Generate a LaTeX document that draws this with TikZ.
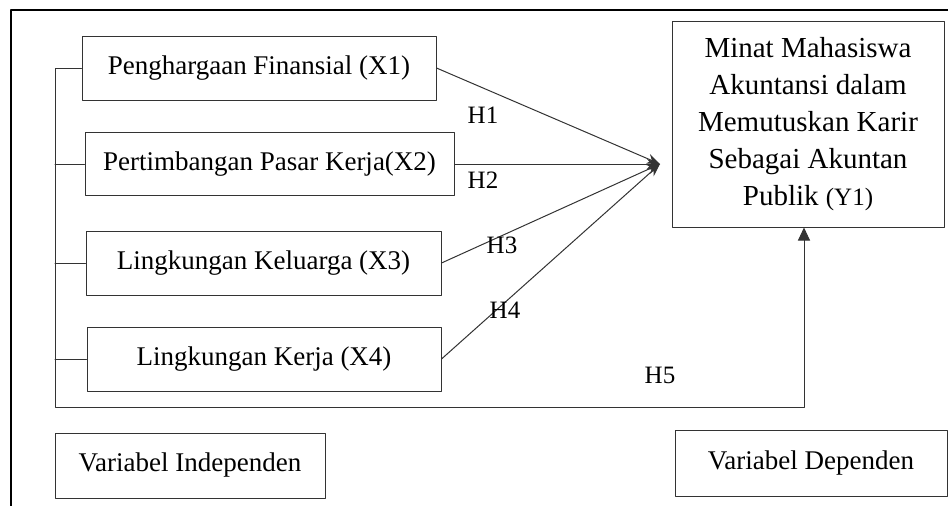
\documentclass[tikz,border=0pt]{standalone}
\usepackage{fontspec}
\setmainfont{Liberation Serif}
\usetikzlibrary{arrows.meta}

\begin{document}
\begin{tikzpicture}[x=1pt,y=-1pt,line cap=round,line join=round,
  box/.style={draw=black!80,line width=1pt,inner sep=0pt,font=\fontsize{27}{32}\selectfont},
  link/.style={draw=black!80,line width=1pt},
  hyp/.style={inner sep=0pt,font=\fontsize{25}{28}\selectfont}]
\path[use as bounding box] (0,0) rectangle (948,506);
\draw[line width=2pt] (11,506) -- (11,10) -- (948,10);
% independent variables
\node[box,minimum width=354pt,minimum height=64pt] (x1) at (259,68) {Penghargaan Finansial (X1)};
\node[box,minimum width=369pt,minimum height=63pt] (x2) at (269.5,164) {Pertimbangan Pasar Kerja(X2)};
\node[box,minimum width=355pt,minimum height=64pt] (x3) at (263.5,263) {Lingkungan Keluarga (X3)};
\node[box,minimum width=354pt,minimum height=64pt] (x4) at (264,359) {Lingkungan Kerja (X4)};
% dependent variable
\node[box,minimum width=272pt,minimum height=206pt,align=center,font=\fontsize{29}{37}\selectfont] (y1) at (808,124)
  {Minat Mahasiswa\\Akuntansi dalam\\Memutuskan Karir\\Sebagai Akuntan\\Publik {\fontsize{25}{37}\selectfont(Y1)}};
% legend boxes
\node[box,minimum width=270pt,minimum height=65pt] (vind) at (190,465.5) {\raisebox{5pt}{Variabel Independen}};
\node[box,minimum width=272pt,minimum height=66pt] (vdep) at (811,463) {\raisebox{5pt}{Variabel Dependen}};
% arrows
\coordinate (hub) at (660,164);
\coordinate (bend) at (55,407);
\draw[link,-{Stealth[length=13pt,width=10pt]}] (x1.east) -- (hub);
\draw[link,-{Stealth[length=13pt,width=10pt]}] (x2.east) -- (hub);
\draw[link,-{Stealth[length=13pt,width=10pt]}] (x3.east) -- (hub);
\draw[link,-{Stealth[length=13pt,width=10pt]}] (x4.east) -- (hub);
\draw[link,-{Triangle[length=13pt,width=12pt]}] (x1.west) -| (bend) -| ([xshift=-4pt]y1.south);
\draw[link] (x2.west) -- (x2.west -| bend);
\draw[link] (x3.west) -- (x3.west -| bend);
\draw[link] (x4.west) -- (x4.west -| bend);
% hypothesis labels
\node[hyp] (h1) at (483,115) {H1};
\node[hyp] (h2) at (483,180) {H2};
\node[hyp] (h3) at (502,245) {H3};
\node[hyp] (h4) at (505,310) {H4};
\node[hyp] (h5) at (660,375) {H5};
\end{tikzpicture}
\end{document}
